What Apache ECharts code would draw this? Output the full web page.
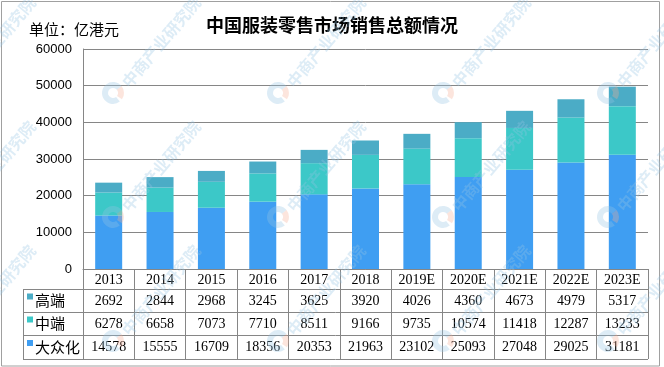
<!DOCTYPE html>
<html>
<head>
<meta charset="utf-8">
<script src="https://cdn.jsdelivr.net/npm/echarts@6/dist/echarts.min.js"></script>
<style>
html,body{margin:0;padding:0;background:#fff;}
#chart{width:664px;height:367px;}
</style>
</head>
<body>
<div id="chart"></div>
<script>
var years = ['2013','2014','2015','2016','2017','2018','2019E','2020E','2021E','2022E','2023E'];
var highEnd = [2692,2844,2968,3245,3625,3920,4026,4360,4673,4979,5317];
var midEnd = [6278,6658,7073,7710,8511,9166,9735,10574,11418,12287,13233];
var mass = [14578,15555,16709,18356,20353,21963,23102,25093,27048,29025,31181];
var seriesNames = ['高端','中端','大众化'];
var yTicks = [0,10000,20000,30000,40000,50000,60000];

var colors = {'高端':'#4bacc6','中端':'#3cc8c8','大众化':'#3f9ef2'};
var gridC = '#868686';
var serif = '"Liberation Serif","DejaVu Serif",serif';
var cjk = '"Noto Sans CJK SC","Noto Sans",sans-serif';

var chart = echarts.init(document.getElementById('chart'));

function rowAxis(values, offset){
  return {
    type:'category', gridIndex:0, position:'bottom', offset:offset,
    data: values.map(String),
    axisLine:{show:false}, axisTick:{show:false}, splitLine:{show:false},
    axisLabel:{interval:0, margin:4, color:'#000', fontSize:14, fontFamily:serif}
  };
}

var graphics = [];
graphics.push({type:'rect', silent:true, shape:{x:1.5,y:1.5,width:658,height:364.5}, style:{fill:'none', stroke:'#a0a0a0', lineWidth:1}});
graphics.push({type:'text', left:29, top:22, style:{text:'单位：亿港元', font:'15px '+cjk, fill:'#000'}});
[289.5,312.5,335.5,359.5].forEach(function(y){
  graphics.push({type:'line', silent:true, shape:{x1:23,y1:y,x2:648,y2:y}, style:{stroke:gridC,lineWidth:1}});
});
graphics.push({type:'line', silent:true, shape:{x1:23.5,y1:289,x2:23.5,y2:360}, style:{stroke:gridC,lineWidth:1}});
var rowY = [300.5, 323.5, 347];
seriesNames.forEach(function(n,i){
  graphics.push({type:'rect', silent:true, shape:{x:27,y:rowY[i]-7,width:6,height:6}, style:{fill:colors[n]}});
  graphics.push({type:'text', silent:true, x:35, y:rowY[i], style:{text:n, font:'15px '+cjk, fill:'#000', textAlign:'left', textVerticalAlign:'middle'}});
});
var wmX = [-52,113,278,443,608];
var wmY = [93,217,341];
wmX.forEach(function(x){
  wmY.forEach(function(y){
    graphics.push({type:'arc', silent:true, z:100, shape:{cx:x,cy:y,r:8,startAngle:0.9,endAngle:5.6}, style:{fill:'none', stroke:'rgba(150,195,228,0.32)', lineWidth:6}});
    graphics.push({type:'arc', silent:true, z:100, shape:{cx:x,cy:y,r:8,startAngle:5.6,endAngle:6.9}, style:{fill:'none', stroke:'rgba(246,175,150,0.32)', lineWidth:6}});
    graphics.push({type:'text', silent:true, z:100, x:x+12, y:y-8, rotation:0.87, style:{text:'中商产业研究院', font:'bold 16px '+cjk, fill:'rgba(150,195,228,0.32)', textAlign:'left', textVerticalAlign:'middle'}});
  });
});

var option = {
  animation:false,
  backgroundColor:'#fff',
  title:{text:'中国服装零售市场销售总额情况', left:'center', top:11, textStyle:{fontSize:18, fontWeight:'bold', color:'#000', fontFamily:cjk}},
  grid:{left:83, right:16, top:49, bottom:98, containLabel:false},
  xAxis:[
    {type:'category', data:years, boundaryGap:true,
     axisLine:{show:true, lineStyle:{color:gridC, width:1}},
     axisTick:{show:true, length:90, interval:0, alignWithLabel:false, lineStyle:{color:gridC}},
     axisLabel:{interval:0, margin:4, color:'#000', fontSize:14, fontFamily:serif}},
    rowAxis(highEnd, 21),
    rowAxis(midEnd, 44),
    rowAxis(mass, 67)
  ],
  yAxis:{type:'value', min:yTicks[0], max:yTicks[yTicks.length-1], interval:10000,
    axisLine:{show:true, lineStyle:{color:gridC}}, axisTick:{show:false},
    splitLine:{show:true, lineStyle:{color:gridC, width:1}},
    axisLabel:{margin:11, color:'#000', fontSize:13, fontFamily:'"Liberation Sans",Arial,sans-serif',
      formatter:function(v){return String(v);}}},
  series:[
    {name:'大众化', type:'bar', stack:'t', data:mass, barWidth:27, itemStyle:{color:colors['大众化']}},
    {name:'中端', type:'bar', stack:'t', data:midEnd, barWidth:27, itemStyle:{color:colors['中端']}},
    {name:'高端', type:'bar', stack:'t', data:highEnd, barWidth:27, itemStyle:{color:colors['高端']}}
  ],
  graphic:graphics
};
chart.setOption(option);
</script>
</body>
</html>
